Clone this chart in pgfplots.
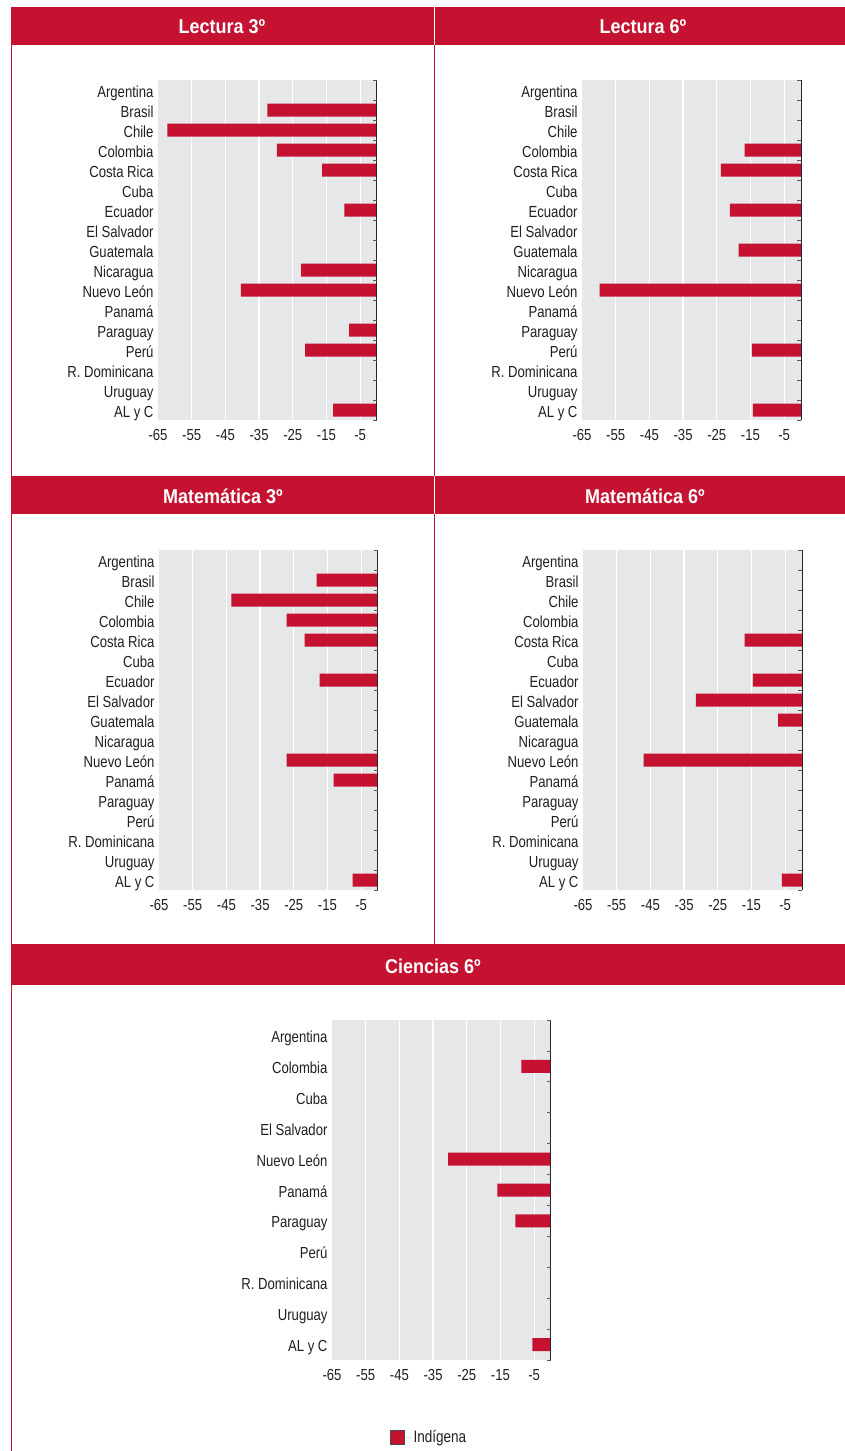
\documentclass[border=0pt]{standalone}
\usepackage{fontspec}
\setmainfont{Liberation Sans}[FakeStretch=0.82]
\newfontfamily\headfont{Liberation Sans}[FakeStretch=0.9]
\usepackage{pgfplots}
\pgfplotsset{compat=1.18}
\definecolor{barred}{RGB}{196,18,48}
\definecolor{bggray}{RGB}{230,231,232}
\definecolor{txt}{RGB}{35,31,32}

\pgfplotsset{
  panel/.style={
    scale only axis, width=219pt, height=340pt,
    xbar, bar shift=0pt, bar width=13pt,
    xmin=-65, xmax=0, y dir=reverse,
    axis background/.style={fill=bggray},
    axis line style={draw=none},
    xtick={-65,-55,...,-5},
    xticklabels={-65,-55,-45,-35,-25,-15,-5},
    minor xtick={-55,-45,...,-5},
    xminorgrids, minor grid style={white, line width=1.3pt},
    major tick length=0pt, minor tick length=0pt,
    tick style={draw=none},
    xticklabel style={font=\fontsize{16}{17}\selectfont, text=txt, yshift=-6pt},
    yticklabel style={font=\fontsize{16}{17}\selectfont, text=txt, anchor=east,
      text height=11.5pt, text depth=0.5pt, xshift=-1pt, yshift=-1.5pt},
    clip=false,
  },
  rticks/.style={
    extra description/.code={
      \draw[black!85, line width=1pt] (rel axis cs:1,0) -- (rel axis cs:1,1);
      \foreach \i in {0,...,#1} {
        \pgfmathsetmacro\r{\i/#1}
        \draw[black!65, line width=0.8pt] (rel axis cs:1,\r) -- ++(-4pt,0pt);
      }
    }
  },
  bars/.style={fill=barred, draw=none},
}

\begin{document}
\begin{tikzpicture}
\useasboundingbox (0,0) rectangle (845pt,-1451pt);
\fill[white] (0,0) rectangle (845pt,-1451pt);
% headers
\fill[barred] (11pt,-7pt) rectangle (433.6pt,-45pt);
\fill[barred] (435.4pt,-7pt) rectangle (845pt,-45pt);
\fill[barred] (11pt,-476pt) rectangle (433.6pt,-514pt);
\fill[barred] (435.4pt,-476pt) rectangle (845pt,-514pt);
\fill[barred] (11pt,-944pt) rectangle (845pt,-985pt);
% frame lines
\draw[barred, line width=1.4pt] (11.7pt,-7pt) -- (11.7pt,-1451pt);
\draw[barred, line width=1pt] (434.5pt,-45pt) -- (434.5pt,-476pt);
\draw[barred, line width=1pt] (434.5pt,-514pt) -- (434.5pt,-944pt);
% titles
\begin{scope}[every node/.style={text=white, font=\headfont\bfseries\fontsize{20}{23}\selectfont}]
\node at (222pt,-27pt) {Lectura 3º};
\node at (643pt,-27pt) {Lectura 6º};
\node at (223pt,-496pt) {Matemática 3º};
\node at (645pt,-496pt) {Matemática 6º};
\node at (433pt,-966pt) {Ciencias 6º};
\end{scope}

% Lectura 3
\begin{axis}[panel, rticks=17, at={(158pt,-420pt)}, anchor=south west,
  ymin=-0.5, ymax=16.5, ytick={0,...,16},
  yticklabels={Argentina,Brasil,Chile,Colombia,Costa Rica,Cuba,Ecuador,El Salvador,Guatemala,Nicaragua,Nuevo León,Panamá,Paraguay,Perú,R. Dominicana,Uruguay,AL y C}]
\addplot[bars] coordinates {(-32.5,1) (-62.2,2) (-29.7,3) (-16.3,4) (-9.7,6) (-22.5,9) (-40.4,10) (-8.3,12) (-21.3,13) (-13.0,16)};
\end{axis}

% Lectura 6
\begin{axis}[panel, rticks=17, at={(582pt,-420pt)}, anchor=south west,
  ymin=-0.5, ymax=16.5, ytick={0,...,16},
  yticklabels={Argentina,Brasil,Chile,Colombia,Costa Rica,Cuba,Ecuador,El Salvador,Guatemala,Nicaragua,Nuevo León,Panamá,Paraguay,Perú,R. Dominicana,Uruguay,AL y C}]
\addplot[bars] coordinates {(-16.7,3) (-23.8,4) (-21.1,6) (-18.5,8) (-59.8,10) (-14.6,13) (-14.3,16)};
\end{axis}

% Matematica 3
\begin{axis}[panel, rticks=17, at={(159pt,-890pt)}, anchor=south west,
  ymin=-0.5, ymax=16.5, ytick={0,...,16},
  yticklabels={Argentina,Brasil,Chile,Colombia,Costa Rica,Cuba,Ecuador,El Salvador,Guatemala,Nicaragua,Nuevo León,Panamá,Paraguay,Perú,R. Dominicana,Uruguay,AL y C}]
\addplot[bars] coordinates {(-18.2,1) (-43.5,2) (-27.1,3) (-21.8,4) (-17.3,6) (-27.1,10) (-13.2,11) (-7.5,16)};
\end{axis}

% Matematica 6
\begin{axis}[panel, rticks=17, at={(583pt,-890pt)}, anchor=south west,
  ymin=-0.5, ymax=16.5, ytick={0,...,16},
  yticklabels={Argentina,Brasil,Chile,Colombia,Costa Rica,Cuba,Ecuador,El Salvador,Guatemala,Nicaragua,Nuevo León,Panamá,Paraguay,Perú,R. Dominicana,Uruguay,AL y C}]
\addplot[bars] coordinates {(-17.0,4) (-14.6,6) (-31.5,7) (-7.1,8) (-47.0,10) (-6.0,16)};
\end{axis}

% Ciencias 6
\begin{axis}[panel, rticks=11, at={(332pt,-1360pt)}, anchor=south west,
  ymin=-0.5, ymax=10.5, ytick={0,...,10},
  yticklabels={Argentina,Colombia,Cuba,El Salvador,Nuevo León,Panamá,Paraguay,Perú,R. Dominicana,Uruguay,AL y C},
  legend style={at={(axis description cs:0.265,-0.228)}, anchor=west, draw=none, fill=none,
    inner sep=0pt, font=\fontsize{16.5}{18}\selectfont, text=txt},
  legend image code/.code={\draw[fill=barred, draw=black!70, line width=0.6pt] (0pt,-7pt) rectangle (14pt,7pt);
    \path (14pt,0pt) -- (21pt,0pt);}]
\addplot[bars] coordinates {(-8.8,1) (-30.5,4) (-15.9,5) (-10.6,6) (-5.5,10)};
\addlegendentry{Indígena}
\end{axis}
\end{tikzpicture}
\end{document}
